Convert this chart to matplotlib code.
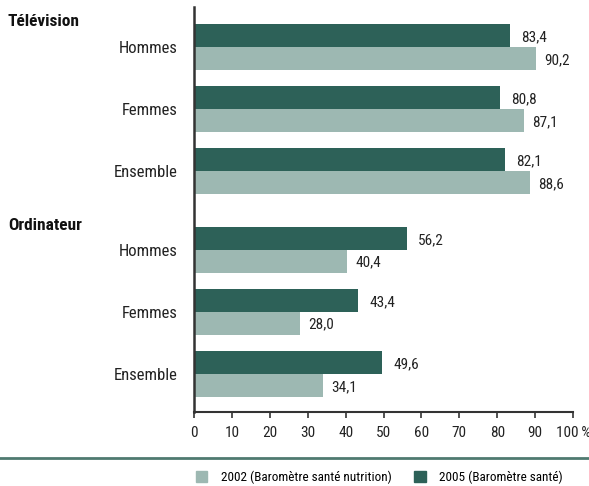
import matplotlib
matplotlib.use("Agg")
import matplotlib.pyplot as plt
from matplotlib.patches import Rectangle
from matplotlib.lines import Line2D
from matplotlib import font_manager

names = sorted({f.name for f in font_manager.fontManager.ttflist})
cands = [n for n in ['Liberation Sans Narrow', 'DejaVu Sans Condensed', 'Roboto Condensed',
                     'Open Sans Condensed', 'Noto Sans Condensed', 'Arial Narrow'] if n in names]
fam = cands[0] if cands else 'Liberation Sans'
plt.rcParams['font.family'] = [fam, 'DejaVu Sans']

sections = ["Télévision", "Ordinateur"]
categories = ["Hommes", "Femmes", "Ensemble", "Hommes", "Femmes", "Ensemble"]
values_2005 = [83.4, 80.8, 82.1, 56.2, 43.4, 49.6]
values_2002 = [90.2, 87.1, 88.6, 40.4, 28.0, 34.1]
series_labels = ["2002 (Baromètre santé nutrition)", "2005 (Baromètre santé)"]
xticks = [0, 10, 20, 30, 40, 50, 60, 70, 80, 90, 100]

dark = "#2d6158"
light = "#9db8b2"

positions = [0, 1, 2, 3.27, 4.27, 5.27]
h = 0.37

fig = plt.figure(figsize=(5.89, 4.86), dpi=100)
ax = fig.add_axes([194/589, 74/486, 379/589, 405/486])

def fmt(v):
    return f"{v:.1f}".replace(".", ",")

fs = 11 if cands else 9.5

ax.barh([p - h/2 for p in positions], values_2005, height=h, color=dark, label=series_labels[1])
ax.barh([p + h/2 for p in positions], values_2002, height=h, color=light, label=series_labels[0])

for p, v in zip(positions, values_2005):
    ax.annotate(fmt(v), (v, p - h/2), xytext=(8, -1), textcoords="offset points",
                ha="left", va="center", fontsize=fs, color="#222222")
for p, v in zip(positions, values_2002):
    ax.annotate(fmt(v), (v, p + h/2), xytext=(6, -1), textcoords="offset points",
                ha="left", va="center", fontsize=fs, color="#222222")

ax.set_xlim(0, 100)
ax.set_ylim(5.27 + 0.613, -0.645)
ax.set_xticks(xticks)
ax.set_xticklabels([str(t) for t in xticks[:-1]] + ["100\u2009%"], fontsize=fs, color="#222222")
ax.tick_params(axis="x", length=4, width=1.2, color="#333333", pad=6)
ax.set_yticks(positions)
ax.set_yticklabels(categories, fontsize=fs + 1, color="#222222")
ax.tick_params(axis="y", length=0, pad=12)

for s in ["top", "right"]:
    ax.spines[s].set_visible(False)
ax.spines["left"].set_linewidth(1.8)
ax.spines["left"].set_color("#333333")
ax.spines["bottom"].set_linewidth(1.5)
ax.spines["bottom"].set_color("#333333")

fig.text(8/589, 1 - 22/486, sections[0], fontsize=fs + 1.5, fontweight="bold", va="center", ha="left", color="#111111")
fig.text(8/589, 1 - 225/486, sections[1], fontsize=fs + 1.5, fontweight="bold", va="center", ha="left", color="#111111")

fig.add_artist(Line2D([0, 1], [1 - 458/486, 1 - 458/486], transform=fig.transFigure,
                      color="#4f7a70", linewidth=2))

handles = [Rectangle((0, 0), 1, 1, color=light), Rectangle((0, 0), 1, 1, color=dark)]
fig.legend(handles, series_labels, loc="center", bbox_to_anchor=(379/589, 1 - 477/486),
           ncol=2, frameon=False, fontsize=fs - 1.5, handlelength=0.9, handleheight=0.9,
           handletextpad=1.0, columnspacing=1.7)

fig.savefig("out.png", dpi=100)
